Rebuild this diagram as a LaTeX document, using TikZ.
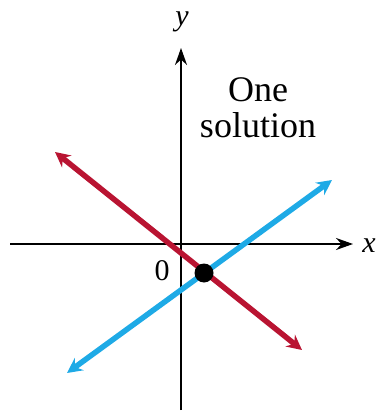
\documentclass[tikz,border=0pt]{standalone}
\usepackage{fontspec}
\setmainfont{Liberation Serif}
\usetikzlibrary{arrows.meta}
\definecolor{redline}{RGB}{185,20,50}
\definecolor{blueline}{RGB}{30,170,230}
\begin{document}
\begin{tikzpicture}[x=1pt,y=-1pt,
  axis/.style={line width=2pt,-{Stealth[length=17pt,width=12pt]}},
  gline/.style={line width=5.5pt,{Stealth[length=15pt,width=15pt,inset=5pt]}-{Stealth[length=15pt,width=15pt,inset=5pt]}},
  lbl/.style={font=\fontsize{30}{32}\selectfont\itshape, inner sep=0pt}]
\useasboundingbox (0,0) rectangle (378,411);
\coordinate (xl) at (10,244);
\coordinate (xr) at (353,244);
\coordinate (yb) at (181,410);
\coordinate (yt) at (181,48);
\draw[axis] (xl) -- (xr);
\draw[axis] (yb) -- (yt);
\node[lbl] (xlab) at (369,246) {x};
\node[lbl] (ylab) at (182,22) {y};
\node[font=\fontsize{30}{32}\selectfont, inner sep=0pt] (zero) at (162,271) {0};
\coordinate (r1) at (55,152);
\coordinate (r2) at (302,350);
\coordinate (b1) at (67,373);
\coordinate (b2) at (332,180);
\draw[gline, redline] (r1) -- (r2);
\draw[gline, blueline] (b1) -- (b2);
\node[circle, fill=black, minimum size=19pt, inner sep=0pt] (dot) at (204,273) {};
\node[font=\fontsize{36}{38}\selectfont, align=center, inner sep=0pt] (txt) at (258,108) {One\\[-2pt]solution};
\end{tikzpicture}
\end{document}
